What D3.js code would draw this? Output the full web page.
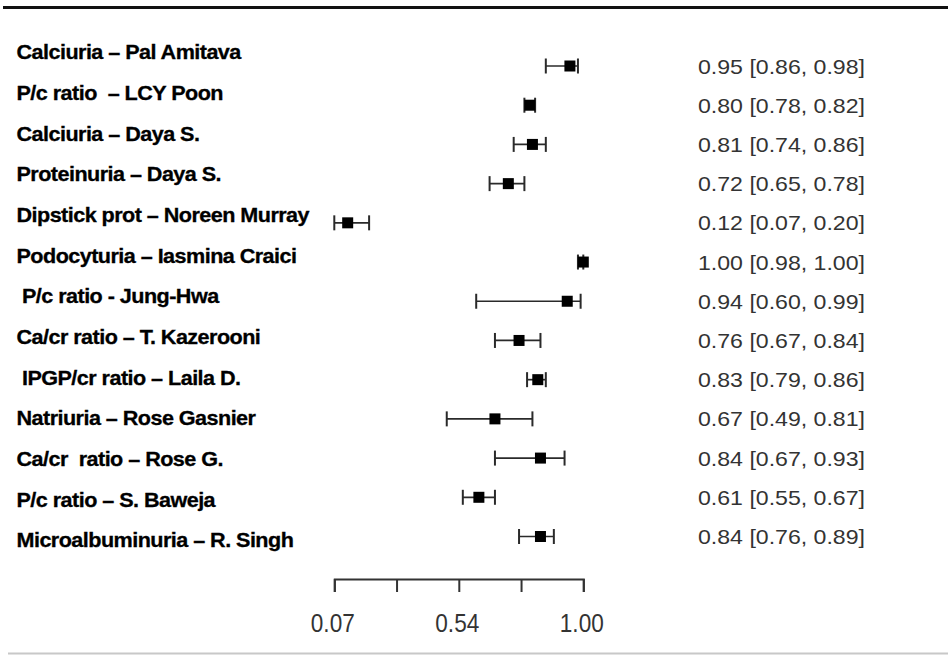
<!DOCTYPE html>
<html>
<head>
<meta charset="utf-8">
<script src="https://cdn.jsdelivr.net/npm/d3@7"></script>
<style>
  body { margin: 0; background: #fff; }
  svg { display: block; }
</style>
</head>
<body>
<svg id="chart" width="948" height="655"></svg>
<script>
// study rows, top to bottom
var studies = [
  "Calciuria \u2013 Pal Amitava",
  "P/c ratio  \u2013 LCY Poon",
  "Calciuria \u2013 Daya S.",
  "Proteinuria \u2013 Daya S.",
  "Dipstick prot \u2013 Noreen Murray",
  "Podocyturia \u2013 Iasmina Craici",
  " P/c ratio - Jung-Hwa",
  "Ca/cr ratio \u2013 T. Kazerooni",
  " IPGP/cr ratio \u2013 Laila D.",
  "Natriuria \u2013 Rose Gasnier",
  "Ca/cr  ratio \u2013 Rose G.",
  "P/c ratio \u2013 S. Baweja",
  "Microalbuminuria \u2013 R. Singh"
]
var estimates = [0.95, 0.80, 0.81, 0.72, 0.12, 1.00, 0.94, 0.76, 0.83, 0.67, 0.84, 0.61, 0.84]
var lower     = [0.86, 0.78, 0.74, 0.65, 0.07, 0.98, 0.60, 0.67, 0.79, 0.49, 0.67, 0.55, 0.76]
var upper     = [0.98, 0.82, 0.86, 0.78, 0.20, 1.00, 0.99, 0.84, 0.86, 0.81, 0.93, 0.67, 0.89]

var axisTicks = [0.07, 0.3025, 0.535, 0.7675, 1.00]
var axisTickLabels = ["0.07", "", "0.54", "", "1.00"]

var rows = studies.map(function (s, i) {
  return { study: s, est: estimates[i], lo: lower[i], hi: upper[i], i: i }
})

var svg = d3.select("#chart")

var x = d3.scaleLinear().domain([0.07, 1.00]).range([334.3, 583.3])
// marks and right-hand text share one row scale, the left labels sit on a slightly wider one
var y = d3.scalePoint().domain(d3.range(rows.length)).range([66, 536.5])
var yLabel = d3.scalePoint().domain(d3.range(rows.length)).range([52, 540])

// frame lines
svg.append("line")
  .attr("x1", 3).attr("x2", 948).attr("y1", 7.5).attr("y2", 7.5)
  .attr("stroke", "#111").attr("stroke-width", 3)
svg.append("line")
  .attr("x1", 8).attr("x2", 948).attr("y1", 653.5).attr("y2", 653.5)
  .attr("stroke", "#c8c8c8").attr("stroke-width", 2)

// study labels
svg.append("g").selectAll("text")
  .data(rows)
  .enter().append("text")
  .attr("transform", function (d) { return "translate(16.5," + yLabel(d.i) + ") scale(1.08,1)" })
  .attr("dy", "0.36em")
  .style("white-space", "pre")
  .attr("font-family", "'Liberation Sans', Arial, sans-serif")
  .attr("font-weight", "bold")
  .attr("font-size", 20)
  .attr("letter-spacing", -0.5)
  .attr("fill", "#000")
  .attr("stroke", "#000")
  .attr("stroke-width", 0.3)
  .text(function (d) { return d.study })

// confidence intervals
var ci = svg.append("g").attr("stroke", "#2a2a2a").attr("fill", "none")

ci.selectAll(".ci")
  .data(rows)
  .enter().append("line")
  .attr("class", "ci")
  .attr("x1", function (d) { return x(d.lo) })
  .attr("x2", function (d) { return x(d.hi) })
  .attr("y1", function (d) { return y(d.i) })
  .attr("y2", function (d) { return y(d.i) })
  .attr("stroke-width", 1.7)

ci.selectAll(".cap-lo")
  .data(rows)
  .enter().append("line")
  .attr("class", "cap-lo")
  .attr("x1", function (d) { return x(d.lo) })
  .attr("x2", function (d) { return x(d.lo) })
  .attr("y1", function (d) { return y(d.i) - 7.5 })
  .attr("y2", function (d) { return y(d.i) + 7.5 })
  .attr("stroke-width", 2)

ci.selectAll(".cap-hi")
  .data(rows)
  .enter().append("line")
  .attr("class", "cap-hi")
  .attr("x1", function (d) { return x(d.hi) })
  .attr("x2", function (d) { return x(d.hi) })
  .attr("y1", function (d) { return y(d.i) - 7.5 })
  .attr("y2", function (d) { return y(d.i) + 7.5 })
  .attr("stroke-width", 2)

// point estimates
svg.append("g").selectAll("rect")
  .data(rows)
  .enter().append("rect")
  .attr("x", function (d) { return x(d.est) - 5.5 })
  .attr("y", function (d) { return y(d.i) - 5.5 })
  .attr("width", 11)
  .attr("height", 11)
  .attr("fill", "#000")

// estimate text on the right
svg.append("g").selectAll("text")
  .data(rows)
  .enter().append("text")
  .attr("x", 698)
  .attr("y", function (d) { return y(d.i) })
  .attr("dy", "0.36em")
  .attr("font-family", "'Liberation Sans', Arial, sans-serif")
  .attr("font-size", 21)
  .attr("fill", "#333")
  .attr("textLength", 167)
  .attr("lengthAdjust", "spacingAndGlyphs")
  .text(function (d) {
    return d.est.toFixed(2) + " [" + d.lo.toFixed(2) + ", " + d.hi.toFixed(2) + "]"
  })

// x axis, drawn as a bracket
var axis = d3.axisBottom(x)
  .tickValues(axisTicks)
  .tickFormat(function (d, i) { return axisTickLabels[i] })
  .tickSizeInner(13)
  .tickSizeOuter(13)
  .tickPadding(22)

var ax = svg.append("g")
  .attr("transform", "translate(0,579)")
  .call(axis)

ax.select(".domain").attr("stroke", "#333").attr("stroke-width", 2)
ax.selectAll(".tick line").attr("stroke", "#333").attr("stroke-width", 2)
ax.selectAll(".tick text")
  .attr("font-family", "'Liberation Sans', Arial, sans-serif")
  .attr("font-size", 26)
  .attr("fill", "#333")
  .attr("dx", -2)
  .attr("textLength", function (d, i) { return axisTickLabels[i] ? 44 : null })
  .attr("lengthAdjust", "spacingAndGlyphs")
</script>
</body>
</html>
